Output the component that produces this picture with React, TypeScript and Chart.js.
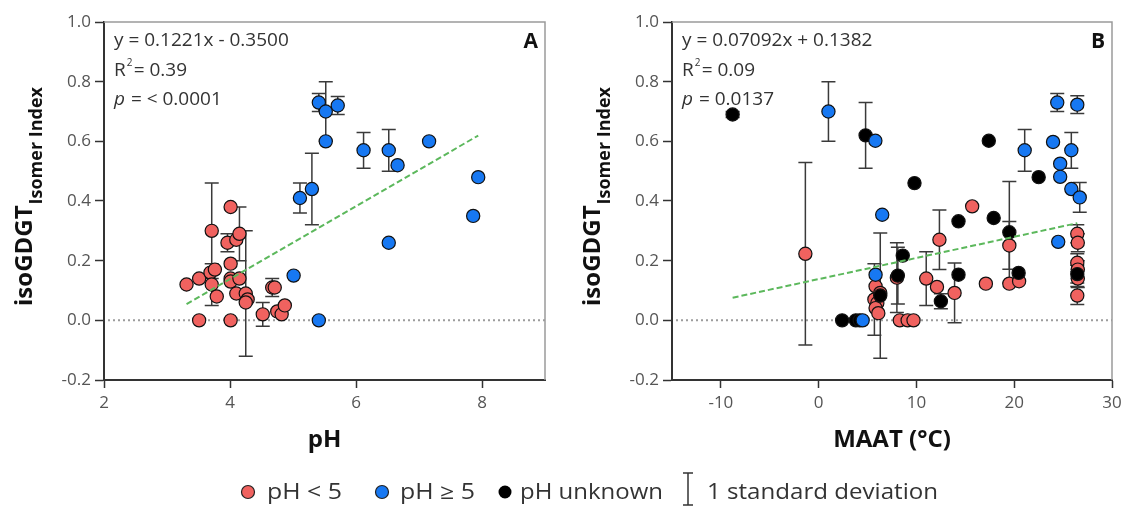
import React, { useEffect, useRef } from "react";
import { Chart, registerables } from "chart.js";
Chart.register(...registerables);

const FONT = "'Open Sans', 'Liberation Sans', sans-serif";
const RED = "#F0625F";
const BLUE = "#1778F2";
const BLACK = "#000000";

// ---------- Panel A : pH ----------
const aLowX = [3.31, 3.51, 3.51, 3.71, 3.69, 3.76, 3.71, 3.79, 4.01, 3.96, 4.10, 4.15, 4.01, 4.01, 4.01, 4.15, 4.10, 4.01, 4.25, 4.28, 4.25, 4.52, 4.67, 4.71, 4.75, 4.82, 4.87];
const aLowY = [0.12, 0.14, 0.00, 0.30, 0.16, 0.17, 0.12, 0.08, 0.38, 0.26, 0.27, 0.29, 0.19, 0.14, 0.13, 0.14, 0.09, 0.00, 0.09, 0.07, 0.06, 0.02, 0.11, 0.11, 0.03, 0.02, 0.05];
const aLowSd = [0, 0, 0, 0.16, 0, 0, 0.07, 0, 0, 0.03, 0, 0.09, 0, 0, 0, 0, 0, 0, 0.21, 0, 0, 0.04, 0.03, 0, 0, 0, 0];

const aHighX = [5.01, 5.11, 5.30, 5.41, 5.41, 5.52, 5.52, 5.71, 6.12, 6.52, 6.66, 7.16, 6.52, 7.86, 7.94];
const aHighY = [0.15, 0.41, 0.44, 0.00, 0.73, 0.70, 0.60, 0.72, 0.57, 0.57, 0.52, 0.60, 0.26, 0.35, 0.48];
const aHighSd = [0, 0.05, 0.12, 0, 0.03, 0.10, 0, 0.03, 0.06, 0.07, 0, 0, 0, 0, 0];

const aFitSlope = 0.1221;
const aFitIntercept = -0.35;
const aFitRange = [3.31, 7.94];
const aStats = ["y = 0.1221x - 0.3500", "0.39", "= < 0.0001"];

// ---------- Panel B : MAAT ----------
const bLowX = [-1.36, 5.82, 5.70, 6.00, 5.82, 6.10, 6.30, 8.00, 8.30, 9.10, 9.70, 11.0, 12.1, 12.35, 13.9, 15.7, 17.1, 19.5, 19.5, 20.5, 26.45, 26.5, 26.45, 26.5, 26.5, 26.45];
const bLowY = [0.223, 0.114, 0.070, 0.058, 0.041, 0.024, 0.092, 0.143, 0, 0, 0, 0.14, 0.112, 0.27, 0.092, 0.382, 0.123, 0.251, 0.123, 0.131, 0.29, 0.26, 0.193, 0.17, 0.14, 0.083];
const bLowSd = [0.306, 0, 0.12, 0, 0, 0, 0, 0.117, 0, 0, 0, 0.09, 0, 0.10, 0.10, 0, 0, 0.08, 0, 0, 0.03, 0.03, 0.03, 0.03, 0.03, 0.03];

const bHighX = [1.0, 4.5, 5.8, 5.82, 6.5, 21.07, 23.97, 24.4, 24.7, 24.7, 24.5, 26.45, 25.84, 25.84, 26.7];
const bHighY = [0.70, 0.00, 0.602, 0.153, 0.354, 0.57, 0.598, 0.73, 0.525, 0.481, 0.263, 0.723, 0.57, 0.44, 0.412];
const bHighSd = [0.10, 0, 0, 0, 0, 0.07, 0, 0.03, 0, 0, 0, 0.03, 0.06, 0, 0.05];

const bUnkX = [-8.8, 2.4, 3.8, 4.2, 4.8, 6.3, 8.1, 8.6, 9.8, 12.5, 14.3, 14.3, 17.4, 17.9, 19.5, 20.45, 22.5, 26.45];
const bUnkY = [0.69, 0.00, 0.00, 0.00, 0.62, 0.083, 0.15, 0.217, 0.46, 0.064, 0.332, 0.153, 0.602, 0.343, 0.295, 0.159, 0.48, 0.155];
const bUnkSd = [0.01, 0, 0, 0, 0.11, 0.21, 0.095, 0, 0, 0.025, 0, 0, 0, 0, 0.17, 0, 0, 0.03];

const bFitSlope = 0.007092;
const bFitIntercept = 0.1382;
const bFitRange = [-8.8, 26.45];
const bStats = ["y = 0.07092x + 0.1382", "0.09", "= 0.0137"];

// ---------- axes ----------
const yTicks = [-0.2, 0, 0.2, 0.4, 0.6, 0.8, 1.0];
const xTicksA = [2, 4, 6, 8];
const xTicksB = [-10, 0, 10, 20, 30];
const legendLabels = ["pH < 5", "pH \u2265 5", "pH unknown", "1 standard deviation"];

type Group = { x: number[]; y: number[]; sd: number[]; fill: string };
type Spec = {
  groups: Group[];
  xMin: number; xMax: number; xTicks: number[];
  fitSlope: number; fitIntercept: number; fitRange: number[];
  stats: string[]; letter: string; xTitle: string;
  yAxisWidth: number; padRight: number;
};

function makeChart(canvas: HTMLCanvasElement, p: Spec) {
  const datasets: any[] = [
    {
      label: "fit",
      data: p.fitRange.map((x) => ({ x, y: p.fitSlope * x + p.fitIntercept })),
      showLine: true, borderColor: "#5cb85c", borderWidth: 2, borderDash: [6, 3],
      pointRadius: 0, fill: false,
    },
  ];
  p.groups.forEach((g) =>
    datasets.push({
      data: g.x.map((x, i) => ({ x, y: g.y[i] })),
      sd: g.sd,
      backgroundColor: g.fill,
      borderColor: "#111",
      borderWidth: 1.2,
      pointRadius: 6.6,
      pointHoverRadius: 6.6,
    })
  );

  const decor = {
    id: "decor",
    beforeDatasetsDraw(chart: any) {
      const { ctx, chartArea: a, scales } = chart;
      const ys = scales.y;
      ctx.save();
      ctx.strokeStyle = "#9a9a9a";
      ctx.lineWidth = 1.5;
      ctx.beginPath();
      ctx.moveTo(a.left, a.top);
      ctx.lineTo(a.right, a.top);
      ctx.lineTo(a.right, a.bottom);
      ctx.stroke();
      const y0 = ys.getPixelForValue(0);
      ctx.setLineDash([2, 3]);
      ctx.strokeStyle = "#9c9c9c";
      ctx.lineWidth = 2;
      ctx.beginPath();
      ctx.moveTo(a.left + 4, y0);
      ctx.lineTo(a.right, y0);
      ctx.stroke();
      ctx.setLineDash([]);
      ctx.strokeStyle = "#3a3a3a";
      ctx.lineWidth = 1.5;
      chart.data.datasets.forEach((ds: any, i: number) => {
        if (!ds.sd) return;
        const meta = chart.getDatasetMeta(i);
        meta.data.forEach((pt: any, j: number) => {
          const s = ds.sd[j];
          if (!s) return;
          const v = ds.data[j].y;
          const yt = ys.getPixelForValue(v + s);
          const yb = ys.getPixelForValue(v - s);
          const x = pt.x;
          ctx.beginPath();
          ctx.moveTo(x, yt); ctx.lineTo(x, yb);
          ctx.moveTo(x - 7, yt); ctx.lineTo(x + 7, yt);
          ctx.moveTo(x - 7, yb); ctx.lineTo(x + 7, yb);
          ctx.stroke();
        });
      });
      ctx.restore();
    },
    afterDraw(chart: any) {
      const { ctx, chartArea: a } = chart;
      ctx.save();
      ctx.textAlign = "left";
      ctx.textBaseline = "alphabetic";
      // statistics
      ctx.fillStyle = "#333";
      const sx = a.left + 10;
      ctx.font = `19px ${FONT}`;
      ctx.fillText(p.stats[0], sx, 46);
      ctx.fillText("R", sx, 76);
      const rw = ctx.measureText("R").width;
      ctx.font = `10px ${FONT}`;
      ctx.fillText("2", sx + rw + 1, 66);
      ctx.font = `19px ${FONT}`;
      ctx.fillText(" = " + p.stats[1], sx + rw + 3, 76);
      ctx.font = `italic 19px ${FONT}`;
      ctx.fillText("p", sx, 105);
      const pw = ctx.measureText("p ").width;
      ctx.font = `19px ${FONT}`;
      ctx.fillText(p.stats[2], sx + pw + 1, 105);
      // panel letter
      ctx.fillStyle = "#111";
      ctx.font = `bold 21px ${FONT}`;
      ctx.textAlign = "right";
      ctx.fillText(p.letter, a.right - 7, 48);
      // x title
      ctx.textAlign = "center";
      ctx.font = `bold 24px ${FONT}`;
      ctx.fillText(p.xTitle, (a.left + a.right) / 2, 447);
      // y title with subscript
      ctx.textAlign = "left";
      ctx.font = `bold 24px ${FONT}`;
      const w1 = ctx.measureText("isoGDGT").width;
      ctx.font = `bold 18px ${FONT}`;
      const w2 = ctx.measureText("Isomer Index").width;
      const cy = (a.top + a.bottom) / 2 - 4;
      ctx.translate(a.left - 72, cy + (w1 + w2) / 2);
      ctx.rotate(-Math.PI / 2);
      ctx.font = `bold 24px ${FONT}`;
      ctx.fillText("isoGDGT", 0, 0);
      ctx.font = `bold 18px ${FONT}`;
      ctx.fillText("Isomer Index", w1 + 1, 10);
      ctx.restore();
    },
  };

  return new Chart(canvas, {
    type: "scatter",
    data: { datasets },
    options: {
      responsive: false,
      animation: false,
      devicePixelRatio: 1,
      layout: { padding: { top: 22, right: p.padRight, left: 0, bottom: 0 } },
      plugins: { legend: { display: false }, tooltip: { enabled: false } },
      scales: {
        x: {
          type: "linear",
          min: p.xMin,
          max: p.xMax,
          afterBuildTicks: (s: any) => { s.ticks = p.xTicks.map((v) => ({ value: v })); },
          afterFit: (s: any) => { s.height = 85; s.paddingLeft = 0; s.paddingRight = 0; },
          grid: { display: true, drawOnChartArea: false, drawTicks: true, tickLength: 8, tickWidth: 1.5, tickColor: "#333" },
          border: { display: true, color: "#333", width: 2 },
          ticks: {
            autoSkip: false, maxRotation: 0, padding: 5, color: "#555",
            font: { family: FONT, size: 17 },
            callback: (v: any) => String(v),
          },
        },
        y: {
          type: "linear",
          min: -0.2,
          max: 1.0,
          afterBuildTicks: (s: any) => { s.ticks = yTicks.map((v) => ({ value: v })); },
          afterFit: (s: any) => { s.width = p.yAxisWidth; s.paddingTop = 0; s.paddingBottom = 0; },
          grid: { display: true, drawOnChartArea: false, drawTicks: true, tickLength: 9, tickWidth: 1.5, tickColor: "#333" },
          border: { display: true, color: "#333", width: 2 },
          ticks: {
            autoSkip: false, padding: 4, color: "#555",
            font: { family: FONT, size: 17 },
            callback: (v: any) => Number(v).toFixed(1),
          },
        },
      },
    } as any,
    plugins: [decor],
  });
}

function Panel({ spec, left, width }: { spec: Spec; left: number; width: number }) {
  const ref = useRef<HTMLCanvasElement>(null);
  useEffect(() => {
    const c = makeChart(ref.current!, spec);
    return () => c.destroy();
  }, []);
  return (
    <canvas
      ref={ref}
      width={width}
      height={465}
      style={{ position: "absolute", left, top: 0, width, height: 465 }}
    />
  );
}

const specA: Spec = {
  groups: [
    { x: aHighX, y: aHighY, sd: aHighSd, fill: BLUE },
    { x: aLowX, y: aLowY, sd: aLowSd, fill: RED },
  ],
  xMin: 2, xMax: 9, xTicks: xTicksA,
  fitSlope: aFitSlope, fitIntercept: aFitIntercept, fitRange: aFitRange,
  stats: aStats, letter: "A", xTitle: "pH",
  yAxisWidth: 104, padRight: 15,
};

const specB: Spec = {
  groups: [
    { x: bHighX, y: bHighY, sd: bHighSd, fill: BLUE },
    { x: bUnkX, y: bUnkY, sd: bUnkSd, fill: BLACK },
    { x: bLowX, y: bLowY, sd: bLowSd, fill: RED },
  ],
  xMin: -15, xMax: 30, xTicks: xTicksB,
  fitSlope: bFitSlope, fitIntercept: bFitIntercept, fitRange: bFitRange,
  stats: bStats, letter: "B", xTitle: "MAAT (\u00B0C)",
  yAxisWidth: 107, padRight: 16,
};

export default function App() {
  const txt = { fontFamily: FONT, fontSize: 21, fill: "#333" } as any;
  return (
    <div style={{ position: "absolute", left: 0, top: 0, width: 1128, height: 507, background: "#fff", overflow: "hidden" }}>
      <Panel spec={specA} left={0} width={560} />
      <Panel spec={specB} left={565} width={563} />
      <svg width={1128} height={507} style={{ position: "absolute", left: 0, top: 0, pointerEvents: "none" }}>
        <circle cx={248} cy={492} r={6.5} fill={RED} stroke="#222" strokeWidth={1.2} />
        <text x={267} y={499} {...txt} textLength={75} lengthAdjust="spacingAndGlyphs">{legendLabels[0]}</text>
        <circle cx={382} cy={492} r={6.5} fill={BLUE} stroke="#222" strokeWidth={1.2} />
        <text x={400} y={499} {...txt} textLength={75} lengthAdjust="spacingAndGlyphs">{legendLabels[1]}</text>
        <circle cx={505} cy={492} r={6.5} fill={BLACK} />
        <text x={520} y={499} {...txt} textLength={143} lengthAdjust="spacingAndGlyphs">{legendLabels[2]}</text>
        <g stroke="#333" strokeWidth={1.5}>
          <line x1={688} y1={473} x2={688} y2={505} />
          <line x1={683} y1={473} x2={693} y2={473} />
          <line x1={683} y1={505} x2={693} y2={505} />
        </g>
        <text x={707} y={499} {...txt} textLength={231} lengthAdjust="spacingAndGlyphs">{legendLabels[3]}</text>
      </svg>
    </div>
  );
}
